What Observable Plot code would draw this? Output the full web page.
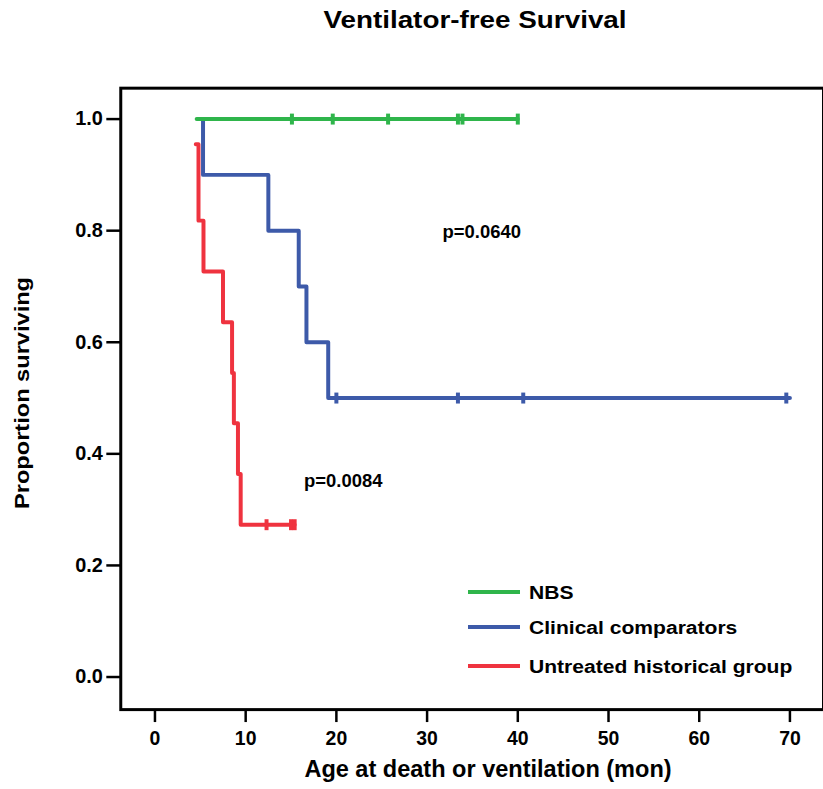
<!DOCTYPE html>
<html>
<head>
<meta charset="utf-8">
<script src="https://cdn.jsdelivr.net/npm/d3@7"></script>
<script src="https://cdn.jsdelivr.net/npm/@observablehq/plot@0.6"></script>
<style>
  html, body { margin: 0; padding: 0; overflow: hidden; background: #fff; }
  #wrap { position: relative; width: 823px; height: 789px; overflow: hidden;
          font-family: "Liberation Sans", Arial, sans-serif; color: #000; }
  #wrap svg { position: absolute; left: 0; top: 0; }
  .title { position: absolute; left: 0; width: 950px; top: 7px; text-align: center;
           font-weight: bold; font-size: 23px; transform: scaleX(1.21); transform-origin: 475px 0; }
  .xtitle { position: absolute; left: 0; width: 976px; top: 755px; text-align: center;
            font-weight: bold; font-size: 24px; transform: scaleX(0.98); transform-origin: 488px 0; }
  .ytitle { position: absolute; left: 22px; top: 393px; white-space: nowrap;
            transform: translate(-50%, -50%) rotate(-90deg) scaleX(1.18);
            font-weight: bold; font-size: 20px; }
  .legend { position: absolute; left: 468px; top: 580px; }
  .legend .row { position: absolute; left: 0; height: 24px; white-space: nowrap; }
  .legend .swatch { position: absolute; left: 0; top: 10px; width: 52px; height: 4px; }
  .legend .lab { position: absolute; left: 61px; top: 1px; font-weight: bold; font-size: 18px;
                 line-height: 24px; transform: scaleX(1.17); transform-origin: 0 0; }
</style>
</head>
<body>
<div id="wrap"></div>
<script>
// Kaplan–Meier step curves: time in months, proportion surviving
const groups = ["NBS", "Clinical comparators", "Untreated historical group"];
const colors = ["#2fb54b", "#3d5aa9", "#ef333f"];

const nbsTime = [4.6, 40.0];
const nbsSurv = [1.0, 1.0];
const nbsCensor = [15.1, 19.6, 25.7, 33.4, 33.9, 40.0];

const clinTime = [5.3, 5.3, 12.5, 15.85, 16.7, 19.1, 70.0];
const clinSurv = [1.0, 0.9, 0.8, 0.7, 0.6, 0.5, 0.5];
const clinCensor = [20.0, 33.4, 40.6, 69.6];

const untrTime = [4.5, 4.8, 5.35, 7.5, 8.5, 8.7, 9.15, 9.45, 15.4];
const untrSurv = [0.955, 0.818, 0.727, 0.636, 0.545, 0.455, 0.364, 0.273, 0.273];
const untrCensor = [12.3, 15.0, 15.4];

const xTicks = [0, 10, 20, 30, 40, 50, 60, 70];
const yTicks = [0.0, 0.2, 0.4, 0.6, 0.8, 1.0];
const pLabels = ["p=0.0640", "p=0.0084"];

const series = [
  {group: groups[0], time: nbsTime, surv: nbsSurv, censor: nbsCensor},
  {group: groups[1], time: clinTime, surv: clinSurv, censor: clinCensor},
  {group: groups[2], time: untrTime, surv: untrSurv, censor: untrCensor}
];

const steps = series.flatMap(s => s.time.map((t, i) => ({group: s.group, t, s: s.surv[i]})));
// censored subjects sit on the curve at their follow-up time
const censored = series.flatMap(s => s.censor.map(t => {
  const i = d3.bisectRight(s.time, t) - 1;
  return {group: s.group, t, s: s.surv[Math.max(0, i)]};
}));

// draw order: untreated, clinical, NBS on top
const order = [groups[2], groups[1], groups[0]];

const vtick = {draw(ctx) { ctx.moveTo(0, -5.5); ctx.lineTo(0, 5.5); }};
const bold = {fontWeight: "bold", fill: "black", fontFamily: "Liberation Sans, Arial, sans-serif"};

const plot = Plot.plot({
  width: 826,
  height: 789,
  marginLeft: 120.7,
  marginRight: 0,
  marginTop: 88,
  marginBottom: 77.3,
  style: {background: "transparent", overflow: "visible"},
  x: {domain: [-3.77, 73.7]},
  y: {domain: [-0.0584, 1.0554]},
  color: {domain: groups, range: colors},
  marks: [
    // tick lines from the axes, tick labels as text marks on the same scales
    Plot.axisY({ticks: yTicks, tickFormat: () => "", tickSize: 14, strokeWidth: 2.5, label: null}),
    Plot.axisX({ticks: xTicks, tickFormat: () => "", tickSize: 13, strokeWidth: 2.5, label: null}),
    Plot.text(yTicks, {y: d => d, frameAnchor: "left", dx: -18, textAnchor: "end",
      text: d3.format(".1f"), fontSize: 20, ...bold}),
    Plot.text(xTicks, {x: d => d, frameAnchor: "bottom", dy: 22, lineAnchor: "top",
      text: d3.format("d"), fontSize: 19.5, ...bold}),
    ...order.map(g => Plot.line(steps.filter(d => d.group === g),
      {x: "t", y: "s", stroke: "group", strokeWidth: 4, curve: "step-after"})),
    ...order.map(g => Plot.dot(censored.filter(d => d.group === g),
      {x: "t", y: "s", stroke: "group", strokeWidth: 4, fill: "none", symbol: vtick, r: 5})),
    Plot.text([pLabels[0]], {frameAnchor: "top-left", dx: 323, dy: 137, text: d => d,
      textAnchor: "start", fontSize: 18.5, ...bold}),
    Plot.text([pLabels[1]], {frameAnchor: "top-left", dx: 184, dy: 387, text: d => d,
      textAnchor: "start", fontSize: 18.5, ...bold}),
    Plot.frame({stroke: "black", strokeWidth: 3})
  ]
});

const wrap = document.getElementById("wrap");
wrap.appendChild(plot);

const title = document.createElement("div");
title.className = "title";
title.textContent = "Ventilator-free Survival";
wrap.appendChild(title);

const xt = document.createElement("div");
xt.className = "xtitle";
xt.textContent = "Age at death or ventilation (mon)";
wrap.appendChild(xt);

const yt = document.createElement("div");
yt.className = "ytitle";
yt.textContent = "Proportion surviving";
wrap.appendChild(yt);

const legend = document.createElement("div");
legend.className = "legend";
const rowTops = [0, 35, 74];
groups.forEach((g, i) => {
  const row = document.createElement("div");
  row.className = "row";
  row.style.top = rowTops[i] + "px";
  const sw = document.createElement("div");
  sw.className = "swatch";
  sw.style.background = colors[i];
  const lab = document.createElement("div");
  lab.className = "lab";
  lab.textContent = g;
  row.appendChild(sw);
  row.appendChild(lab);
  legend.appendChild(row);
});
wrap.appendChild(legend);
</script>
</body>
</html>
